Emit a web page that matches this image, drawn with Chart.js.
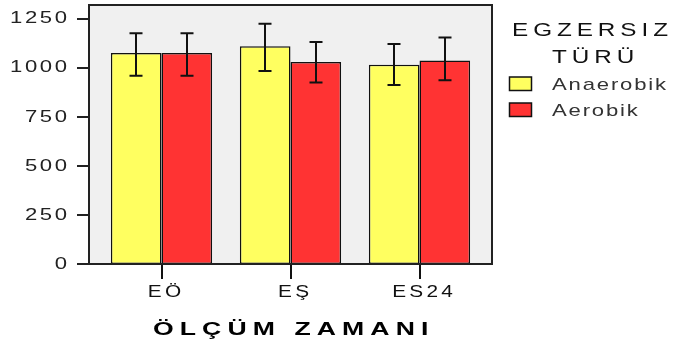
<!DOCTYPE html>
<html>
<head>
<meta charset="utf-8">
<script src="https://cdn.jsdelivr.net/npm/chart.js@4.4.1/dist/chart.umd.min.js"></script>
<style>
  body { margin: 0; background: #fff; }
</style>
</head>
<body>
<canvas id="chart" width="676" height="345"></canvas>
<script>
const categories = ['EÖ', 'EŞ', 'ES24'];
const anaerobik = [1075, 1110, 1015];
const aerobik = [1075, 1029, 1037];
const anaerobikLow = [959, 983, 912];
const anaerobikHigh = [1176, 1224, 1121];
const aerobikLow = [959, 925, 937];
const aerobikHigh = [1176, 1131, 1155];
const yTicks = [0, 250, 500, 750, 1000, 1250];

const legendTitle = ['EGZERSIZ', 'TÜRÜ'];
const seriesNames = ['Anaerobik', 'Aerobik'];
const axisTitle = 'ÖLÇÜM ZAMANI';

const FONT = '"Liberation Sans", Arial, sans-serif';
const INSET = 8;

// the original text is wide and spaced out, so text is drawn stretched
function drawText(ctx, text, x, y, o) {
    ctx.save();
    ctx.font = o.font;
    ctx.letterSpacing = o.spacing + 'px';
    ctx.fillStyle = o.color || '#111';
    ctx.textBaseline = o.baseline || 'alphabetic';
    ctx.textAlign = 'left';
    const w = (ctx.measureText(text).width - o.spacing) * o.sx;
    let x0 = x;
    if (o.align === 'right') x0 = x - w;
    if (o.align === 'center') x0 = x - w / 2;
    ctx.translate(x0, y);
    ctx.scale(o.sx, 1);
    ctx.fillText(text, 0, 0);
    ctx.restore();
}

const framePlugin = {
    id: 'frame',
    beforeDraw(chart) {
        const { ctx, chartArea: a } = chart;
        ctx.save();
        ctx.fillStyle = '#f0f0f0';
        ctx.fillRect(a.left - INSET, a.top, a.right - a.left + 2 * INSET, a.bottom - a.top);
        ctx.restore();
    },
    afterDraw(chart) {
        const { ctx, chartArea: a, scales } = chart;
        ctx.save();
        ctx.strokeStyle = '#222';
        ctx.lineWidth = 2;
        ctx.strokeRect(a.left - INSET, a.top, a.right - a.left + 2 * INSET, a.bottom - a.top);
        // y tick marks outside the frame
        ctx.beginPath();
        yTicks.forEach(v => {
            const y = Math.round(scales.y.getPixelForValue(v));
            ctx.moveTo(a.left - INSET - 12, y);
            ctx.lineTo(a.left - INSET, y);
        });
        ctx.stroke();
        ctx.restore();

        // tick labels
        yTicks.forEach(v => {
            drawText(ctx, String(v), 67, scales.y.getPixelForValue(v),
                { font: '17px ' + FONT, sx: 1.3, spacing: 2, align: 'right', baseline: 'middle', color: '#222' });
        });
        categories.forEach((c, i) => {
            drawText(ctx, c, scales.x.getPixelForTick(i) + 3, 296.5,
                { font: '16px ' + FONT, sx: 1.3, spacing: 2.5, align: 'center', color: '#111' });
        });

        // axis title
        drawText(ctx, axisTitle, 153, 335,
            { font: 'bold 19px ' + FONT, sx: 1.4, spacing: 4.35, color: '#000' });

        // legend
        const lt = { font: '18px ' + FONT, sx: 1.35, spacing: 3.65, color: '#111' };
        drawText(ctx, legendTitle[0], 512, 35.5, lt);
        drawText(ctx, legendTitle[1], 552, 63, lt);

        const rows = [84, 110];
        chart.data.datasets.forEach((ds, i) => {
            const yc = rows[i];
            ctx.save();
            ctx.fillStyle = ds.backgroundColor;
            ctx.fillRect(509.5, yc - 7, 22, 13.5);
            ctx.strokeStyle = '#111';
            ctx.lineWidth = 1.5;
            ctx.strokeRect(509.5, yc - 7, 22, 13.5);
            ctx.restore();
            drawText(ctx, ds.label, 552, yc + 6,
                { font: '17px ' + FONT, sx: 1.3, spacing: 1.4, color: '#333' });
        });
    }
};

const errorBarPlugin = {
    id: 'errorBars',
    afterDatasetsDraw(chart) {
        const { ctx, scales } = chart;
        const lows = [anaerobikLow, aerobikLow];
        const highs = [anaerobikHigh, aerobikHigh];
        ctx.save();
        ctx.strokeStyle = '#111';
        ctx.lineWidth = 2;
        chart.data.datasets.forEach((ds, i) => {
            chart.getDatasetMeta(i).data.forEach((bar, j) => {
                const x = Math.round(bar.x);
                const yLo = scales.y.getPixelForValue(lows[i][j]);
                const yHi = scales.y.getPixelForValue(highs[i][j]);
                ctx.beginPath();
                ctx.moveTo(x, yLo); ctx.lineTo(x, yHi);
                ctx.moveTo(x - 6.5, yLo); ctx.lineTo(x + 6.5, yLo);
                ctx.moveTo(x - 6.5, yHi); ctx.lineTo(x + 6.5, yHi);
                ctx.stroke();
            });
        });
        ctx.restore();
    }
};

new Chart(document.getElementById('chart'), {
    type: 'bar',
    data: {
        labels: categories,
        datasets: [
            { label: seriesNames[0], data: anaerobik, backgroundColor: '#ffff60', borderColor: '#111', borderWidth: 1.5, borderSkipped: false },
            { label: seriesNames[1], data: aerobik, backgroundColor: '#ff3333', borderColor: '#111', borderWidth: 1.5, borderSkipped: false }
        ]
    },
    options: {
        responsive: false,
        animation: false,
        categoryPercentage: 0.785,
        barPercentage: 1.0,
        layout: { padding: { top: 5, right: 192, left: 0, bottom: 0 } },
        plugins: { legend: { display: false }, tooltip: { enabled: false } },
        scales: {
            x: {
                afterFit(s) { s.height = 81; s.paddingLeft = 0; s.paddingRight = 0; },
                border: { display: false },
                grid: { display: true, drawOnChartArea: false, drawTicks: true, tickLength: 15, offset: false, color: '#111', lineWidth: 2 },
                ticks: { display: false }
            },
            y: {
                min: 0,
                max: 1320,
                afterFit(s) { s.width = 97; s.paddingTop = 0; s.paddingBottom = 0; },
                border: { display: false },
                grid: { display: false, drawTicks: false },
                ticks: { display: false, stepSize: 250, includeBounds: false }
            }
        }
    },
    plugins: [framePlugin, errorBarPlugin]
});
</script>
</body>
</html>
